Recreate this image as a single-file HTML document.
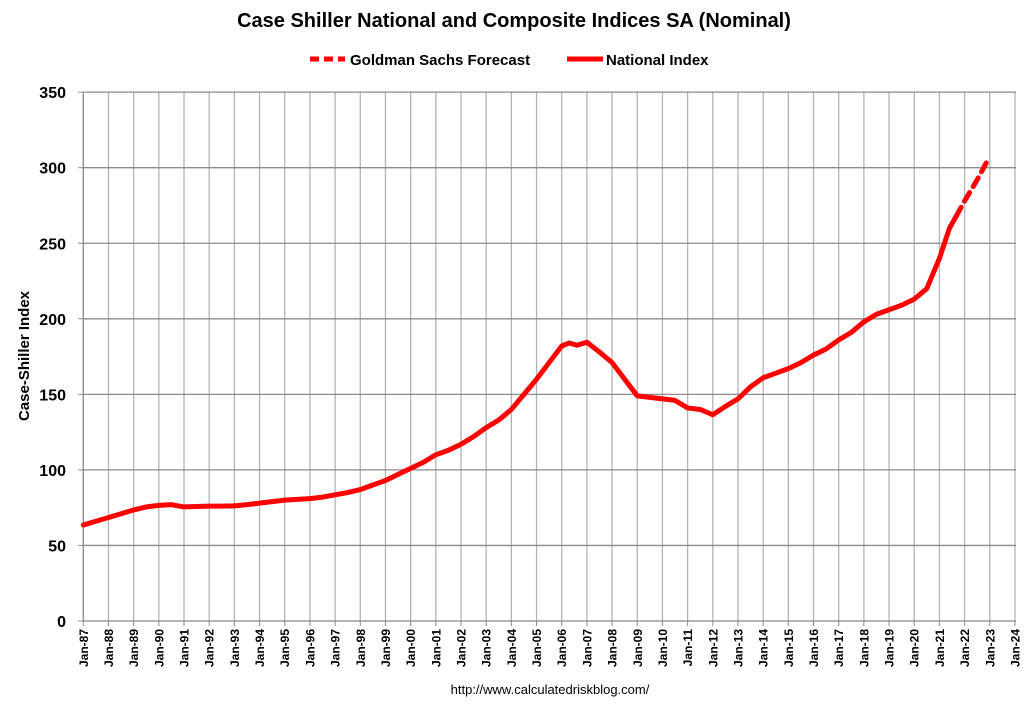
<!DOCTYPE html>
<html><head><meta charset="utf-8"><style>
body{margin:0;background:#fff;font-family:"Liberation Sans",Arial,sans-serif}
svg text{font-family:"Liberation Sans",Arial,sans-serif}
</style></head><body>
<svg id="c" width="1029" height="702" xmlns="http://www.w3.org/2000/svg">
<text x="514" y="27" text-anchor="middle" font-size="20" font-weight="bold">Case Shiller National and Composite Indices SA (Nominal)</text>
<g>
<g><line x1="310" y1="59" x2="345" y2="59" stroke="#f00" stroke-width="5" stroke-dasharray="9,5"/><text x="350" y="65" font-size="15" font-weight="bold">Goldman Sachs Forecast</text></g>
<g><line x1="567" y1="59" x2="603" y2="59" stroke="#f00" stroke-width="5"/><text x="606" y="65" font-size="15" font-weight="bold">National Index</text></g>
</g>
<g id="grid"></g><g id="axes"></g><g id="series"></g>
<text transform="translate(29,356) rotate(-90)" text-anchor="middle" font-size="15" font-weight="bold">Case-Shiller Index</text>
<text x="550" y="694" text-anchor="middle" font-size="13">http://www.calculatedriskblog.com/</text>
</svg>
<script>
const yTicks=[0,50,100,150,200,250,300,350];
const xYears=[87,88,89,90,91,92,93,94,95,96,97,98,99,0,1,2,3,4,5,6,7,8,9,10,11,12,13,14,15,16,17,18,19,20,21,22,23,24];
const natDates=[1987,1987.5,1988,1988.5,1989,1989.5,1990,1990.5,1991,1991.5,1992,1992.5,1993,1993.5,1994,1994.5,1995,1995.5,1996,1996.5,1997,1997.5,1998,1998.5,1999,1999.5,2000,2000.5,2001,2001.5,2002,2002.5,2003,2003.5,2004,2004.5,2005,2005.5,2006,2006.3,2006.6,2007,2007.5,2008,2008.5,2009,2009.5,2010,2010.5,2011,2011.5,2012,2012.5,2013,2013.5,2014,2014.5,2015,2015.5,2016,2016.5,2017,2017.5,2018,2018.5,2019,2019.5,2020,2020.5,2021,2021.4,2021.67];
const natValues=[63.5,66,68.5,71,73.5,75.5,76.5,77,75.5,75.8,76,76,76.2,77,78,79,80,80.5,81,82,83.5,85,87,90,93,97,101,105,110,113,117,122,128,133,140,150,160,171,182,184,182.5,184.5,178,171,160,149,148,147,146,141,140,136.5,142,147,155,161,164,167,171,176,180,186,191,198,203,206,209,213,220,240,260,268];
const fcDates=[2021.67,2022,2022.5,2022.92];
const fcValues=[268,278,292,305];
const X0=83.3,PXY=25.18,Y0=621,PXV=1.511,XR=1016;
const xs=d=>X0+(d-1987)*PXY, ys=v=>Y0-v*PXV;
const NS="http://www.w3.org/2000/svg";
function mk(t,a,p){const e=document.createElementNS(NS,t);for(const k in a)e.setAttribute(k,a[k]);p.appendChild(e);return e;}
const grid=document.getElementById('grid'),axes=document.getElementById('axes'),ser=document.getElementById('series');
xYears.forEach((y,i)=>{const x=xs(1987+i);
 if(i>0){const l=mk('line',{x1:x,y1:ys(350),x2:x,y2:Y0,stroke:'#b3b3b3','stroke-width':1.3},grid);
 
 }
 mk('line',{x1:x,y1:Y0,x2:x,y2:Y0+5,stroke:'#888'},axes);
 const t=mk('text',{transform:`translate(${x+4.5},${Y0+8}) rotate(-90)`,'text-anchor':'end','font-size':12,'font-weight':'bold'},axes);
 t.textContent='Jan-'+String(y).padStart(2,'0');
 
 
});
yTicks.forEach(v=>{const y=ys(v);
 if(v>0){const l=mk('line',{x1:X0,y1:y,x2:XR,y2:y,stroke:'#8c8c8c','stroke-width':1.3},grid);
 
 }
 mk('line',{x1:X0-5,y1:y,x2:X0,y2:y,stroke:'#888'},axes);
 const t=mk('text',{x:66,y:y+6,'text-anchor':'end','font-size':16,'font-weight':'bold'},axes);
 t.textContent=v;
 
 
});
const ya=mk('line',{x1:X0,y1:ys(350),x2:X0,y2:Y0,stroke:'#888','stroke-width':1.3},axes);


const xa=mk('line',{x1:X0,y1:Y0,x2:XR,y2:Y0,stroke:'#888','stroke-width':1.3},axes);


const p1=mk('polyline',{points:natDates.map((d,i)=>xs(d)+','+ys(natValues[i])).join(' '),fill:'none',stroke:'#f00','stroke-width':5,'stroke-linejoin':'round','stroke-linecap':'round'},ser);


const p2=mk('polyline',{points:fcDates.map((d,i)=>xs(d)+','+ys(fcValues[i])).join(' '),fill:'none',stroke:'#f00','stroke-width':5,'stroke-dasharray':'10,7','stroke-linecap':'round'},ser);


</script>
</body></html>
